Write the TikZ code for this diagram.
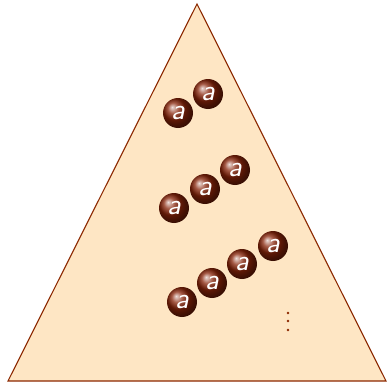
\documentclass[tikz,border=0pt]{standalone}
\usepackage{fontspec}
\definecolor{tri}{RGB}{254,230,196}
\definecolor{triline}{RGB}{140,40,0}
\definecolor{ballc}{RGB}{135,35,8}
\begin{document}
\begin{tikzpicture}[x=1pt,y=-1pt,
  ball/.style={circle,minimum size=30pt,inner sep=0pt,ball color=ballc,text=white,
    font=\sffamily\itshape\fontsize{30}{30}\selectfont}]
\useasboundingbox (0,0) rectangle (392,383);
\draw[fill=tri,draw=triline,line width=1.1pt] (197,4) -- (386,381) -- (8,381) -- cycle;
\node[ball] (a1) at (178,113) {a};
\node[ball] (a2) at (208,94) {a};
\node[ball] (b1) at (174,208) {a};
\node[ball] (b2) at (205,189) {a};
\node[ball] (b3) at (235,170) {a};
\node[ball] (c1) at (182,302) {a};
\node[ball] (c2) at (212,283) {a};
\node[ball] (c3) at (242,264) {a};
\node[ball] (c4) at (273,246) {a};
\foreach \y in {313,321,330} \fill[triline] (288,\y) circle (1.3pt);
\end{tikzpicture}
\end{document}
